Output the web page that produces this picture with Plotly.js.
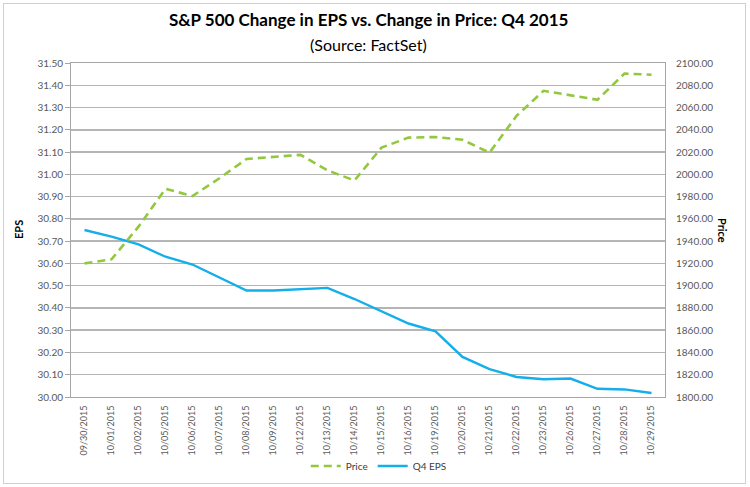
<!DOCTYPE html>
<html><head><meta charset="utf-8">
<script src="https://cdn.plot.ly/plotly-3.0.1.min.js"></script>
<style>
html,body{margin:0;padding:0;background:#fff;}
#wrap{position:relative;width:750px;height:487px;}
#chart{width:750px;height:487px;}
#frame{position:absolute;left:3px;top:3px;width:741px;height:479px;border:1px solid #d0d0d0;pointer-events:none;}
</style></head>
<body>
<div id="wrap"><div id="chart"></div><div id="frame"></div></div>
<script>
const dates = ["09/30/2015","10/01/2015","10/02/2015","10/05/2015","10/06/2015","10/07/2015","10/08/2015","10/09/2015","10/12/2015","10/13/2015","10/14/2015","10/15/2015","10/16/2015","10/19/2015","10/20/2015","10/21/2015","10/22/2015","10/23/2015","10/26/2015","10/27/2015","10/28/2015","10/29/2015"];
const price = [1920.0,1923.6,1953.0,1987.0,1980.5,1996.5,2013.8,2015.5,2017.5,2003.5,1994.5,2024.0,2033.0,2033.5,2031.0,2019.5,2052.5,2075.0,2071.0,2067.0,2090.5,2089.5];
const eps = [30.75,30.72,30.685,30.63,30.595,30.535,30.478,30.478,30.483,30.49,30.44,30.385,30.33,30.295,30.18,30.125,30.09,30.08,30.083,30.037,30.034,30.018];
const epsTicks = [30.0,30.1,30.2,30.3,30.4,30.5,30.6,30.7,30.8,30.9,31.0,31.1,31.2,31.3,31.4,31.5];
const priceTicks = [1800,1820,1840,1860,1880,1900,1920,1940,1960,1980,2000,2020,2040,2060,2080,2100];

const green = "#92c83e", blue = "#14aeea";
const tickFont = {family:"Lato, 'Open Sans', sans-serif", size:10, color:"#595959"};
const xTickFont = {family:"Lato, 'Open Sans', sans-serif", size:9, color:"#595959"};

const traces = [
  {x:dates, y:price, name:"Price", type:"scatter", mode:"lines", yaxis:"y2",
   line:{color:green, width:2.6, dash:"8px,5px"}},
  {x:dates, y:eps, name:"Q4 EPS", type:"scatter", mode:"lines", yaxis:"y",
   line:{color:blue, width:2.4}}
];

const layout = {
  width:750, height:487,
  margin:{l:71, r:85, t:63, b:90},
  paper_bgcolor:"#fff", plot_bgcolor:"#fff",
  showlegend:true,
  legend:{orientation:"h", x:0.505, xref:"container", xanchor:"center", y:0.043, yref:"container", yanchor:"middle",
    bgcolor:"rgba(0,0,0,0)",
    font:{family:"Lato, 'Open Sans', sans-serif", size:10, color:"#404040"}, traceorder:"normal"},
  xaxis:{type:"category", range:[-0.5, dates.length-0.5], tickangle:-90,
    tickfont:xTickFont, showgrid:false, showline:true, linecolor:"#a6a6a6", linewidth:1,
    mirror:true, ticks:"", ticklabelstandoff:4, automargin:false, fixedrange:true},
  yaxis:{range:[30.0,31.5], tickvals:epsTicks, ticktext:epsTicks.map(v=>v.toFixed(2)),
    tickfont:tickFont, showgrid:true, gridcolor:"#b5b5b5", gridwidth:1.5,
    showline:true, linecolor:"#a6a6a6", linewidth:1, mirror:true,
    ticks:"outside", ticklen:5, tickcolor:"#a6a6a6", zeroline:false, automargin:false},
  yaxis2:{range:[1800,2100], tickvals:priceTicks, ticktext:priceTicks.map(v=>v.toFixed(2)),
    overlaying:"y", side:"right", tickfont:tickFont, showgrid:false, showline:false,
    ticks:"", ticklabelstandoff:10, zeroline:false, automargin:false},
  annotations:[
    {text:"<b>S&P 500 Change in EPS vs. Change in Price: Q4 2015</b>", xref:"paper", yref:"paper",
     x:0.5, y:1, xshift:0, yshift:44, showarrow:false, xanchor:"center", yanchor:"middle",
     font:{family:"Lato, 'Open Sans', sans-serif", size:17, color:"#000"}},
    {text:"(Source: FactSet)", xref:"paper", yref:"paper",
     x:0.5, y:1, yshift:19, showarrow:false, xanchor:"center", yanchor:"middle",
     font:{family:"Lato, 'Open Sans', sans-serif", size:16, color:"#000"}},
    {text:"<b>EPS</b>", xref:"paper", yref:"paper", x:0, xshift:-53, y:0.5, textangle:-90,
     showarrow:false, xanchor:"center", yanchor:"middle",
     font:{family:"Lato, 'Open Sans', sans-serif", size:11, color:"#000"}},
    {text:"<b>Price</b>", xref:"paper", yref:"paper", x:1, xshift:58, y:0.5, textangle:90,
     showarrow:false, xanchor:"center", yanchor:"middle",
     font:{family:"Lato, 'Open Sans', sans-serif", size:11, color:"#000"}}
  ]
};
Plotly.newPlot("chart", traces, layout, {displayModeBar:false, staticPlot:true});
</script>
</body></html>
